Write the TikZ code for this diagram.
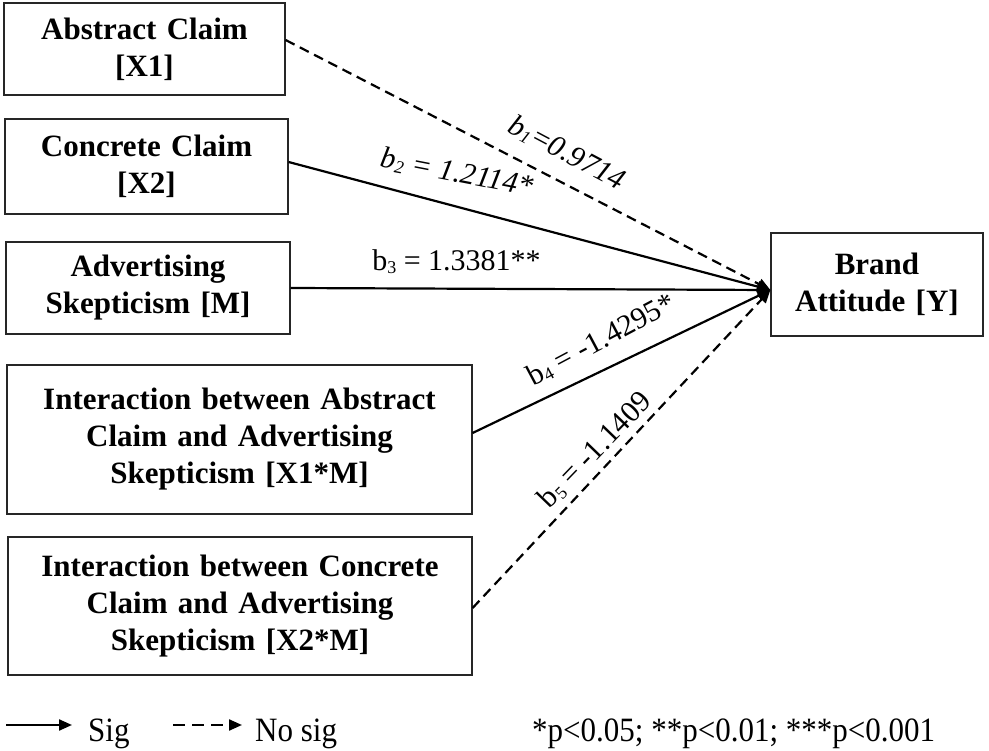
\documentclass[tikz,border=0pt]{standalone}
\usepackage{fontspec}
\setmainfont{Liberation Serif}
\usetikzlibrary{arrows.meta,calc}
\newcommand\mysub[1]{\raisebox{-0.1em}{\fontsize{18}{18}\selectfont #1}}
\begin{document}
\begin{tikzpicture}[x=1pt,y=-1pt,
  box/.style={draw=black!85, line width=1.2pt, inner sep=0pt, align=center,
    font=\fontsize{31}{37}\selectfont\bfseries},
  lab/.style={font=\fontsize{30}{36}\selectfont, inner sep=0pt},
  leg/.style={font=\fontsize{31}{36}\selectfont, inner sep=0pt, anchor=base west},
  sig/.style={line width=2.2pt, -{Triangle[length=13pt,width=11pt]}},
  nosig/.style={sig, dash pattern=on 10pt off 6pt}]
\useasboundingbox (0,0) rectangle (989,751);

% boxes
\node[box, minimum width=281pt, minimum height=92pt, text width=270pt] (x1) at (144.5,49) {Abstract Claim\\{}[X1]};
\node[box, minimum width=283pt, minimum height=95pt, text width=270pt] (x2) at (146.5,166.5) {Concrete Claim\\{}[X2]};
\node[box, minimum width=284pt, minimum height=92pt, text width=270pt] (m) at (148,288) {Advertising\\Skepticism [M]};
\node[box, minimum width=465pt, minimum height=149pt, text width=450pt] (x1m) at (239.5,439.5) {Interaction between Abstract\\Claim and Advertising\\Skepticism [X1*M]};
\node[box, minimum width=464pt, minimum height=138pt, text width=450pt] (x2m) at (240,606) {Interaction between Concrete\\Claim and Advertising\\Skepticism [X2*M]};
\node[box, minimum width=212pt, minimum height=103pt, text width=200pt] (y) at (877,284.5) {Brand\\Attitude [Y]};

\coordinate (tip) at ([yshift=-5.5pt]y.west);

% connectors
\draw[nosig] ([yshift=9pt]x1.east) -- (tip);
\draw[sig] ([yshift=4.5pt]x2.east) -- (tip);
\draw[sig] (m.east) -- (tip);
\draw[sig] ([yshift=6.5pt]x1m.east) -- (tip);
\draw[nosig] ([yshift=-2pt]x2m.east) -- (tip);

% labels
\node[lab, rotate=-28] (l1) at (567,153) {\textit{b\mysub{1}=0.9714}};
\node[lab, rotate=-11] (l2) at (457,173) {\textit{b\mysub{2} = 1.2114*}};
\node[lab] (l3) at (456.5,262) {b\mysub{3} = 1.3381**};
\node[lab, rotate=28] (l4) at (601,340) {b\mysub{4} = -1.4295*};
\node[lab, rotate=46] (l5) at (595,450) {b\mysub{5} = -1.1409};

% legend
\coordinate (s1) at (6,725);
\coordinate (s2) at (72,725);
\coordinate (d1) at (173,725);
\coordinate (d2) at (242,725);
\draw[sig] (s1) -- (s2);
\draw[sig, dash pattern=on 12pt off 7pt] (d1) -- (d2);
\node[leg] (tsig) at (88,741) {\scalebox{1}[1.1]{Sig}};
\node[leg] (tnosig) at (255,741) {\scalebox{1}[1.1]{No sig}};
\node[leg] (tp) at (532,741) {\scalebox{1}[1.1]{*p<0.05; **p<0.01; ***p<0.001}};
\end{tikzpicture}
\end{document}
